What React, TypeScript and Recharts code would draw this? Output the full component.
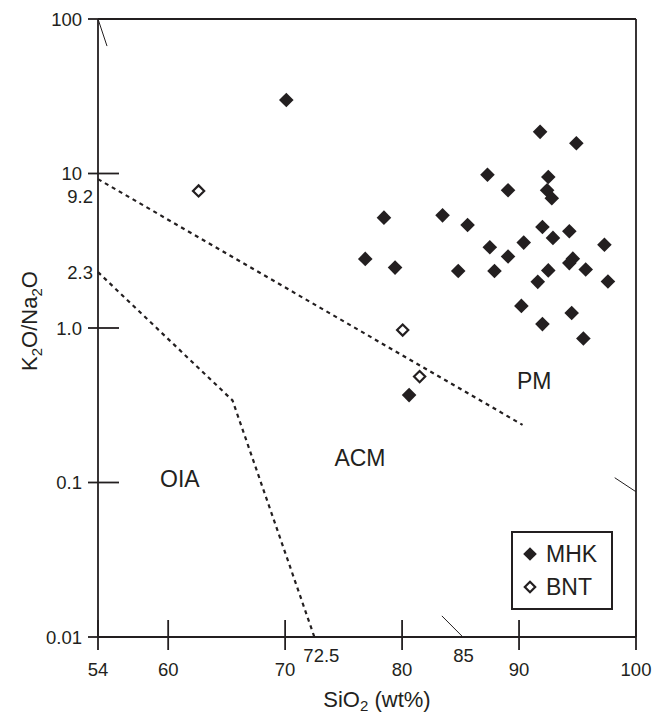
import React from "react";
import {
  ScatterChart,
  Scatter,
  XAxis,
  YAxis,
  ReferenceLine,
  ReferenceDot,
  Label,
} from "recharts";

const INK = "#231f20";
const FONT = '"Liberation Sans", Arial, sans-serif';

// MHK samples (filled diamonds)
const mhkSiO2 = [
  70.1, 78.45, 76.85, 79.4, 80.6, 83.46, 85.6, 84.8, 87.3, 87.5, 87.9, 89.06,
  89.06, 90.4, 90.2, 91.6, 91.8, 92.0, 92.0, 92.5, 92.4, 92.8, 92.5, 92.9,
  94.3, 94.6, 94.3, 94.5, 94.9, 95.7, 95.5, 97.3, 97.6,
];
const mhkRatio = [
  29.9, 5.18, 2.8, 2.46, 0.368, 5.36, 4.64, 2.34, 9.82, 3.33, 2.34, 7.79, 2.9,
  3.57, 1.39, 1.99, 18.6, 4.51, 1.06, 9.49, 7.79, 6.91, 2.36, 3.83, 4.23, 2.81,
  2.63, 1.25, 15.7, 2.39, 0.855, 3.46, 2.0,
];

// BNT samples (open diamonds)
const bntSiO2 = [62.6, 80.05, 81.5];
const bntRatio = [7.71, 0.97, 0.485];

// field boundaries (dashed)
const pmLineSiO2 = [54, 90.3];
const pmLineRatio = [9.2, 0.236];
const oiaLineSiO2 = [54, 65.5, 72.5];
const oiaLineRatio = [2.3, 0.34, 0.01];

const xTicks = [54, 60, 70, 72.5, 80, 85, 90, 100];
const yTicks = [0.01, 0.1, 1, 2.3, 9.2, 10, 100];
const yTickText: Record<string, string> = {
  "0.01": "0.01",
  "0.1": "0.1",
  "1": "1.0",
  "2.3": "2.3",
  "9.2": "9.2",
  "10": "10",
  "100": "100",
};

const regionNames = ["OIA", "ACM", "PM"];
const regionSiO2 = [61.0, 76.4, 91.3];
const regionRatio = [0.105, 0.145, 0.454];

// short leftover strokes from the original diagram
const strayLines = [
  [{ x: 54, y: 100 }, { x: 54.77, y: 66.8 }],
  [{ x: 83.4, y: 0.0137 }, { x: 85.2, y: 0.01 }],
  [{ x: 98.18, y: 0.1074 }, { x: 100, y: 0.0871 }],
];

const toPoints = (xs: number[], ys: number[]) =>
  xs.map((x, i) => ({ x, y: ys[i] }));

const mhkData = toPoints(mhkSiO2, mhkRatio);
const bntData = toPoints(bntSiO2, bntRatio);
const pmLine = toPoints(pmLineSiO2, pmLineRatio);
const oiaLine = toPoints(oiaLineSiO2, oiaLineRatio);

const diamondPath = (cx: number, cy: number, r: number) =>
  `${cx},${cy - r} ${cx + r},${cy} ${cx},${cy + r} ${cx - r},${cy}`;

const FilledDiamond = (p: any) => (
  <polygon points={diamondPath(p.cx, p.cy, 7.3)} fill={INK} />
);
const OpenDiamond = (p: any) => (
  <polygon
    points={diamondPath(p.cx, p.cy, 5.6)}
    fill="#fff"
    stroke={INK}
    strokeWidth={2.2}
  />
);

const YTick = ({ x, y, payload }: any) => {
  const v = payload.value;
  const major = [0.01, 0.1, 1, 10, 100].includes(v);
  return (
    <g>
      {major && (
        <line x1={x - 10} x2={x + 21} y1={y} y2={y} stroke={INK} strokeWidth={1.8} />
      )}
      <text
        x={major ? x - 16 : x - 5}
        y={y + (v === 9.2 ? 17 : 0)}
        dy="0.36em"
        textAnchor="end"
        fontSize={18.5}
        fill={INK}
        fontFamily={FONT}
      >
        {yTickText[String(v)]}
      </text>
    </g>
  );
};

const XTick = ({ x, y, payload }: any) => {
  const v = payload.value;
  const minor = v === 72.5 || v === 85;
  return (
    <g>
      {!minor && (
        <line x1={x} x2={x} y1={y - 17} y2={y + 13} stroke={INK} strokeWidth={1.8} />
      )}
      <text
        x={x + (v === 72.5 ? 7 : v === 85 ? 3 : 0)}
        y={y + (minor ? 18 : 32)}
        dy="0.36em"
        textAnchor="middle"
        fontSize={18.5}
        fill={INK}
        fontFamily={FONT}
      >
        {v}
      </text>
    </g>
  );
};

const YTitle = ({ viewBox }: any) => {
  const cx = viewBox.x + 37;
  const cy = viewBox.y + viewBox.height / 2 - 7;
  return (
    <text
      x={cx}
      y={cy}
      transform={`rotate(-90, ${cx}, ${cy})`}
      textAnchor="middle"
      fontSize={22}
      fill={INK}
      fontFamily={FONT}
    >
      K<tspan fontSize={15} dy={5}>2</tspan>
      <tspan dy={-5}>O/Na</tspan>
      <tspan fontSize={15} dy={5}>2</tspan>
      <tspan dy={-5}>O</tspan>
    </text>
  );
};

const XTitle = ({ viewBox }: any) => {
  const cx = viewBox.x + viewBox.width / 2 + 10;
  const cy = viewBox.y + 70;
  return (
    <text x={cx} y={cy} textAnchor="middle" fontSize={22} fill={INK} fontFamily={FONT}>
      SiO<tspan fontSize={15} dy={4}>2</tspan>
      <tspan dy={-4}> (wt%)</tspan>
    </text>
  );
};

const dashed = { stroke: INK, strokeWidth: 2.2, strokeDasharray: "4 4" };

export default function App() {
  return (
    <div style={{ position: "absolute", left: 0, top: 0, width: 669, height: 716, background: "#fff" }}>
      <ScatterChart
        width={669}
        height={716}
        margin={{ top: 19, right: 33, bottom: 0, left: 0 }}
        style={{ fontFamily: FONT }}
      >
        <XAxis
          type="number"
          dataKey="x"
          domain={[54, 100]}
          ticks={xTicks}
          interval={0}
          height={79}
          tickSize={0}
          tickMargin={0}
          tickLine={false}
          axisLine={{ stroke: INK, strokeWidth: 1.8 }}
          tick={(p: any) => <XTick {...p} />}
        >
          <Label content={XTitle} />
        </XAxis>
        <YAxis
          type="number"
          dataKey="y"
          scale="log"
          domain={[0.01, 100]}
          allowDataOverflow
          ticks={yTicks}
          interval={0}
          width={98}
          tickSize={0}
          tickMargin={0}
          tickLine={false}
          axisLine={{ stroke: INK, strokeWidth: 1.8 }}
          tick={(p: any) => <YTick {...p} />}
        >
          <Label content={YTitle} />
        </YAxis>

        {/* frame */}
        <ReferenceLine y={100} stroke={INK} strokeWidth={1.8} ifOverflow="visible" />
        <ReferenceLine x={100} stroke={INK} strokeWidth={1.8} ifOverflow="visible" />

        {strayLines.map((seg, i) => (
          <ReferenceLine key={i} segment={seg} stroke={INK} strokeWidth={1} ifOverflow="visible" />
        ))}

        {/* field boundaries */}
        <Scatter data={pmLine} line={dashed} shape={() => <g />} legendType="none" isAnimationActive={false} />
        <Scatter data={oiaLine} line={dashed} shape={() => <g />} legendType="none" isAnimationActive={false} />

        {regionNames.map((name, i) => (
          <ReferenceDot
            key={name}
            x={regionSiO2[i]}
            y={regionRatio[i]}
            r={1}
            fill="none"
            stroke="none"
            label={{ value: name, position: "center", fontSize: 23, fill: INK, fontFamily: FONT }}
          />
        ))}

        <Scatter name="MHK" data={mhkData} shape={FilledDiamond} isAnimationActive={false} />
        <Scatter name="BNT" data={bntData} shape={OpenDiamond} isAnimationActive={false} />
      </ScatterChart>

      {/* legend */}
      <svg width={102} height={79} style={{ position: "absolute", left: 511, top: 531 }}>
        <rect x={1} y={1} width={100} height={77} fill="#fff" stroke={INK} strokeWidth={2} />
        <polygon points={diamondPath(19, 23, 6.8)} fill={INK} />
        <text x={35} y={23} dy="0.36em" fontSize={23} fill={INK} fontFamily={FONT}>
          MHK
        </text>
        <polygon points={diamondPath(19, 56, 5.2)} fill="#fff" stroke={INK} strokeWidth={2.2} />
        <text x={35} y={56} dy="0.36em" fontSize={23} fill={INK} fontFamily={FONT}>
          BNT
        </text>
      </svg>
    </div>
  );
}
